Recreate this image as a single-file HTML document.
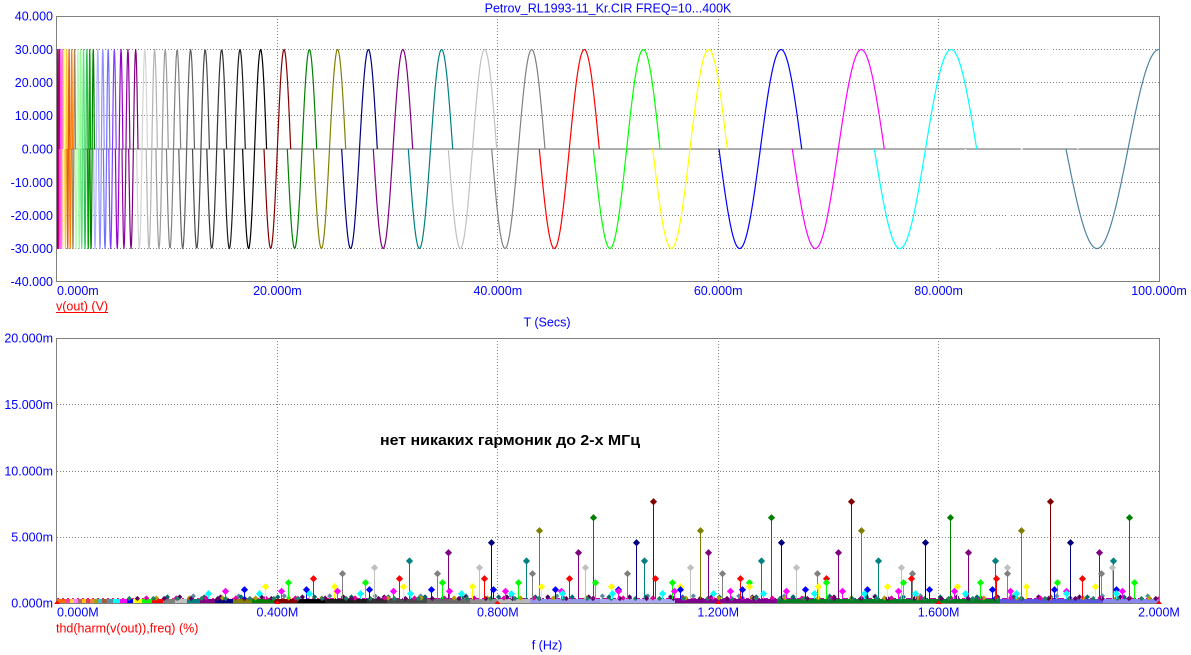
<!DOCTYPE html>
<html>
<head>
<meta charset="utf-8">
<style>
html,body{margin:0;padding:0;background:#ffffff;}
svg{display:block;}
text{font-family:"Liberation Sans",Arial,sans-serif;font-size:12.5px;}
.b{fill:#0000ff;}
.r{fill:#ff0000;}
</style>
</head>
<body>
<svg id="plot" width="1191" height="655" viewBox="0 0 1191 655" xmlns="http://www.w3.org/2000/svg">
<defs>
  <clipPath id="c1"><rect x="57" y="16" width="1102.5" height="265.5"/></clipPath>
  <clipPath id="c2"><rect x="57" y="338" width="1102.5" height="266"/></clipPath>
</defs>
<rect x="0" y="0" width="1191" height="655" fill="#ffffff"/>

<!-- Title -->
<text class="b" x="608" y="12.5" text-anchor="middle">Petrov_RL1993-11_Kr.CIR FREQ=10...400K</text>

<!-- TOP PLOT grid -->
<g stroke="#808080" stroke-width="1" stroke-dasharray="1 2" fill="none">
  <line x1="57" y1="49.5" x2="1159" y2="49.5"/>
  <line x1="57" y1="82.5" x2="1159" y2="82.5"/>
  <line x1="57" y1="115.5" x2="1159" y2="115.5"/>
  <line x1="57" y1="182.5" x2="1159" y2="182.5"/>
  <line x1="57" y1="215.5" x2="1159" y2="215.5"/>
  <line x1="57" y1="248.5" x2="1159" y2="248.5"/>
  <line x1="277.5" y1="16" x2="277.5" y2="281"/>
  <line x1="497.5" y1="16" x2="497.5" y2="281"/>
  <line x1="718.5" y1="16" x2="718.5" y2="281"/>
  <line x1="938.5" y1="16" x2="938.5" y2="281"/>
</g>
<line x1="57" y1="149" x2="1159" y2="149" stroke="#808080" stroke-width="1.2"/>
<g id="wave" clip-path="url(#c1)"></g>
<rect x="56.5" y="16.5" width="1103" height="265" fill="none" stroke="#808080" stroke-width="1"/>

<!-- top y labels -->
<g class="b" text-anchor="end">
  <text x="53" y="20.5">40.000</text>
  <text x="53" y="54">30.000</text>
  <text x="53" y="87">20.000</text>
  <text x="53" y="120">10.000</text>
  <text x="53" y="153.5">0.000</text>
  <text x="53" y="187">-10.000</text>
  <text x="53" y="220">-20.000</text>
  <text x="53" y="253">-30.000</text>
  <text x="53" y="286">-40.000</text>
</g>
<g class="b">
  <text x="57" y="295">0.000m</text>
  <text x="277.4" y="295" text-anchor="middle">20.000m</text>
  <text x="497.8" y="295" text-anchor="middle">40.000m</text>
  <text x="718.2" y="295" text-anchor="middle">60.000m</text>
  <text x="938.6" y="295" text-anchor="middle">80.000m</text>
  <text x="1159" y="295" text-anchor="middle">100.000m</text>
  <text x="547" y="326.5" text-anchor="middle">T (Secs)</text>
</g>
<text class="r" x="56" y="310.5">v(out) (V)</text>
<line x1="56" y1="312.5" x2="108" y2="312.5" stroke="#ff0000" stroke-width="1"/>

<!-- BOTTOM PLOT grid -->
<g stroke="#808080" stroke-width="1" stroke-dasharray="1 2" fill="none">
  <line x1="57" y1="404.5" x2="1159" y2="404.5"/>
  <line x1="57" y1="471.5" x2="1159" y2="471.5"/>
  <line x1="57" y1="537.5" x2="1159" y2="537.5"/>
  <line x1="277.5" y1="338" x2="277.5" y2="603"/>
  <line x1="497.5" y1="338" x2="497.5" y2="603"/>
  <line x1="718.5" y1="338" x2="718.5" y2="603"/>
  <line x1="938.5" y1="338" x2="938.5" y2="603"/>
</g>
<g id="band" clip-path="url(#c2)"></g>
<g id="stems" clip-path="url(#c2)"></g>
<rect x="56.5" y="338.5" width="1103" height="265" fill="none" stroke="#808080" stroke-width="1"/>
<g id="ticks"></g>

<text x="510" y="445" text-anchor="middle" style="font-family:'Liberation Sans','DejaVu Sans',sans-serif;font-size:15px;font-weight:bold;fill:#000000" textLength="260" lengthAdjust="spacingAndGlyphs">нет никаких гармоник до 2-х МГц</text>

<!-- bottom labels -->
<g class="b" text-anchor="end">
  <text x="53" y="342.5">20.000m</text>
  <text x="53" y="409">15.000m</text>
  <text x="53" y="475.5">10.000m</text>
  <text x="53" y="541.5">5.000m</text>
  <text x="53" y="607.5">0.000m</text>
</g>
<g class="b">
  <text x="57" y="616.5">0.000M</text>
  <text x="277.4" y="616.5" text-anchor="middle">0.400M</text>
  <text x="497.8" y="616.5" text-anchor="middle">0.800M</text>
  <text x="718.2" y="616.5" text-anchor="middle">1.200M</text>
  <text x="938.6" y="616.5" text-anchor="middle">1.600M</text>
  <text x="1159" y="616.5" text-anchor="middle">2.000M</text>
  <text x="547" y="649.5" text-anchor="middle">f (Hz)</text>
</g>
<text class="r" x="56" y="632.5">thd(harm(v(out)),freq) (%)</text>
</svg>

<script>
(function(){
var NS='http://www.w3.org/2000/svg';
function el(tag,a,p){var e=document.createElementNS(NS,tag);for(var k in a)e.setAttribute(k,a[k]);p.appendChild(e);return e;}

/* ---------- TOP WAVEFORM ---------- */
var W=document.getElementById('wave');
var Y0=149,A=99.5;
var main=[
 [242.6,24,'#000000'],
 [264,26.7,'#800000'],
 [287.3,29.4,'#008000'],
 [313.3,32.4,'#808000'],
 [341.7,35.6,'#000080'],
 [373.3,39.4,'#800080'],
 [408.3,44.4,'#008080'],
 [448.3,48.4,'#c0c0c0'],
 [491.7,53.3,'#808080'],
 [539.3,60,'#ff0000'],
 [593.3,66.7,'#00ff00'],
 [652.7,74.6,'#ffff00'],
 [719,82.7,'#0000ff'],
 [792.3,92,'#ff00ff'],
 [874.3,102.4,'#00ffff'],
 [965.4,112.6,'#ffffff'],
 [1066,124,'#4c84a0']
];
var pre=[
 [224,21.3,'#1c1c1c'],[206.8,19.8,'#333333'],[192.5,16.9,'#4a4a4a'],[178.8,15.7,'#606060'],
 [166.4,14.3,'#808080'],[155.9,12.4,'#9a9a9a'],[146.2,11.2,'#b4b4b4'],[136.6,10.9,'#d4d4d4'],
 [128.7,9.3,'#800080'],[122,7.9,'#8c00a0'],[115.4,7.5,'#9600c8'],[108.8,7.4,'#8040ff'],
 [103.4,6.4,'#7070ff'],[98.6,5.6,'#9090ff'],[93.6,5.6,'#b0b0ff'],[89.9,4.5,'#008000'],
 [87.5,3.0,'#00a000'],[84.1,3.7,'#30c050'],[80.8,3.7,'#60e080'],[78.6,2.7,'#90ff90'],
 [75.1,3.7,'#b0ffb0']
];
var extra=['#a08060','#ff8000','#e06010','#ffc040','#ffff80','#ff80c0','#ff40ff','#c00080','#800040','#008080','#ff6000','#c000c0'];
var s=75.1,D=3.7,i=0;
while(s>55.5 && i<40){D*=0.9;s-=0.89*D;pre.push([s,D,extra[i%extra.length]]);i++;}
pre.reverse();
var all=pre.concat(main);
all.forEach(function(g){
  var s=g[0],D=g[1],c=g[2];
  var n=Math.max(20,Math.ceil(D*1.5));
  var pts=[];
  for(var j=0;j<=n;j++){var t=j/n;var x=s+t*D;var y=Y0+A*Math.sin(2*Math.PI*t);pts.push(x.toFixed(2)+','+y.toFixed(2));}
  el('polyline',{points:pts.join(' '),fill:'none',stroke:c,'stroke-width':(c=='#ffffff'?1.6:1.2),'stroke-linejoin':'round'},W);
});

/* ---------- BOTTOM BAND ---------- */
var B=document.getElementById('band');
var band=[[57,66,'#ff6a00'],[66,70,'#ff40a0'],[70,74,'#ffd040'],[74,78,'#ff80ff'],[78,82,'#c06080'],[82,86,'#ffc000'],[86,90,'#e04060'],[90,94,'#ff8040'],[94,98,'#a0a000'],[98,102,'#40c0c0'],[102,107,'#a06040'],[107,113,'#5f8fa0'],[113,120,'#00ffff'],[120,127,'#ff00ff'],[127,133,'#0000ff'],[133,142,'#ffff00'],[142,152,'#00ff00'],[152,163,'#ff0000'],[163,175,'#808080'],[175,187,'#c0c0c0'],[187,200,'#008080'],[200,215,'#800080'],[215,233,'#000080'],[233,252,'#808000'],[252,274,'#008000'],[274,298,'#800000'],[298,325,'#000000'],[325,367,'#1c1c1c'],[367,387,'#303030'],[387,427,'#4a4a4a'],[427,470,'#686868'],[470,497,'#909090'],[497,530,'#b8b8b8'],[530,600,'#9898e8'],[600,675,'#a8a8f0'],[675,777,'#800090'],[777,1000,'#008020'],[1000,1103,'#5858e0'],[1103,1160,'#8888f0']];
band.forEach(function(b){el('rect',{x:b[0],y:599,width:b[1]-b[0],height:4.5,fill:b[2]},B);});
el('line',{x1:330,y1:598.5,x2:1159,y2:598.5,stroke:'#c000b0','stroke-width':1,'stroke-dasharray':'6 2'},B);
el('line',{x1:57,y1:598.5,x2:330,y2:598.5,stroke:'#e02080','stroke-width':1,'stroke-dasharray':'2 3'},B);

/* ---------- STEMS ---------- */
var ST=document.getElementById('stems');
function diamond(x,y,r,c){el('polygon',{points:x+','+(y-r)+' '+(x+r)+','+y+' '+x+','+(y+r)+' '+(x-r)+','+y,fill:c},ST);}
var small=[['#5a8aa0',45.45,596],['#4a0060',40.9,597],['#006868',36.8,597],['#b0a000',33.1,598],['#e000a0',29.8,598],['#600060',26.8,598.5],['#208060',24.1,598.5]];
small.forEach(function(sr){
  for(var k=3;;k++){var x=57+k*sr[1];if(x>1160)break;
    el('line',{x1:x,y1:sr[2],x2:x,y2:599,stroke:sr[0],'stroke-width':1},ST);
    diamond(x,sr[2],2.6,sr[0]);}
});
var ser=[
 ['#800000',198.6,501.7],
 ['#008000',178.6,517.7],
 ['#808000',160.7,530.7],
 ['#000080',144.7,542.7],
 ['#800080',130.2,552.7],
 ['#008080',117.3,561],
 ['#c0c0c0',105.5,567.7],
 ['#808080',94.95,573.7],
 ['#ff0000',85.4,578.7],
 ['#00ff00',76.9,582.7],
 ['#ffff00',69.2,586.7],
 ['#0000ff',62.3,589.7],
 ['#ff00ff',56.05,591.3],
 ['#00ffff',50.45,593.7]
];
ser.forEach(function(sr){
  for(var k=3;;k++){var x=57+k*sr[1];if(x>1160)break;
    x=Math.round(x)+0.5;
    el('line',{x1:x,y1:sr[2],x2:x,y2:599,stroke:sr[0],'stroke-width':1},ST);
    diamond(x,sr[2],3.6,sr[0]);}
});

/* small red tick markers */
var T=document.getElementById('ticks');
[57,277.5,497.5,718.5,938.5,1159].forEach(function(x){
  el('polygon',{points:(x-3)+',604 '+(x+3)+',604 '+x+',600.5',fill:'#ff0000'},T);
});
})();
</script>
</body>
</html>
